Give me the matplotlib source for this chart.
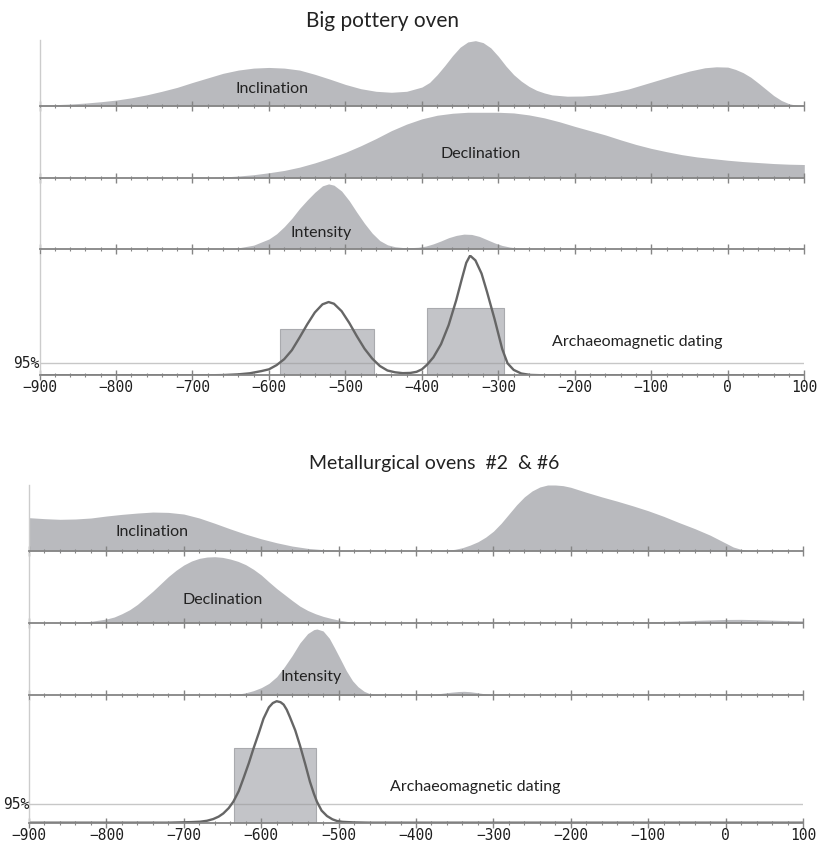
import matplotlib
matplotlib.use('Agg')
import matplotlib.pyplot as plt
from matplotlib.ticker import MultipleLocator
from matplotlib.patches import Rectangle

# ---------------- data (relative probability density, %) ----------------
# Big pottery oven
TOP_YEARS_INCL = [-900, -880, -860, -840, -820, -800, -780, -760, -740, -720, -700, -680, -660,
                  -640, -620, -600, -580, -560, -540, -520, -500, -480, -460, -440, -420, -400,
                  -390, -380, -370, -360, -350, -340, -330, -320, -310, -300, -290, -280, -270,
                  -260, -250, -240, -230, -210, -190, -170, -150, -130, -110, -90, -70, -50, -30,
                  -15, 0, 10, 20, 30, 40, 50, 60, 70, 80, 90, 100]
TOP_INCL = [1, 2, 3, 4.5, 6.5, 9, 12.5, 17, 22.5, 28.5, 36, 43, 50,
            55, 58, 59, 58, 55, 48.5, 41, 33, 26.5, 22.5, 21, 22.5, 29,
            36, 48, 62, 77, 90, 98, 100, 97, 89, 76, 61, 48, 38,
            30, 24, 20, 17, 15, 15.3, 17, 21, 26, 33, 40, 47, 53.5, 58.5,
            60, 59.5, 56, 51, 44, 35, 25.5, 16, 8.5, 3.5, 1, 0]

TOP_YEARS_DECL = [-900, -700, -680, -660, -640, -620, -600, -580, -560, -540, -520, -500, -480,
                  -460, -440, -420, -400, -380, -360, -340, -320, -300, -280, -260, -240, -220,
                  -200, -180, -160, -140, -120, -100, -80, -60, -40, -20, 0, 20, 40, 60, 80, 100]
TOP_DECL = [0, 0, 0.5, 1.5, 3, 5, 8, 11.5, 16.5, 23, 30.5, 39, 49,
            60, 72, 82, 90, 95.5, 98.5, 100, 100, 100, 99, 96, 91.5, 85.5,
            78.5, 72, 65.5, 58, 51, 45, 40, 35.5, 32, 29.5, 27, 25, 23.5, 22, 21, 20.5]

TOP_YEARS_INT = [-900, -670, -650, -640, -620, -600, -590, -580, -570, -560, -550, -540, -530,
                 -522, -515, -505, -495, -485, -475, -465, -455, -445, -435, -425, -415, -405,
                 -395, -385, -375, -365, -355, -345, -335, -325, -315, -305, -295, -285, -275,
                 -260, -250, 100]
TOP_INT = [0, 0, 0.5, 1.3, 5.5, 15, 23, 34, 47, 62, 75, 87, 97,
           100, 98, 89, 74, 56, 39, 24, 12.5, 6, 3, 1.8, 1.6, 2.2,
           4, 7.5, 12, 17, 20.5, 22.5, 22, 19, 14, 9, 5, 2.5, 1,
           0.2, 0, 0]

TOP_YEARS_AM = [-900, -680, -660, -640, -625, -610, -600, -590, -580, -570, -560, -550, -540,
                -530, -522, -515, -505, -495, -485, -475, -465, -455, -445, -435, -425, -415,
                -407, -400, -393, -385, -375, -365, -355, -348, -342, -337, -330, -322, -315,
                -305, -295, -288, -280, -270, -258, -240, 100]
TOP_AM = [0, 0, 0.2, 0.8, 1.7, 3.5, 5, 8.5, 13.5, 21, 31.5, 42.5, 52.5,
          59.3, 61.2, 59.8, 53.6, 43.8, 32.6, 22.2, 14, 7.8, 4, 2.5, 1.8, 2,
          2.9, 5, 9, 15, 26, 42, 63, 80, 94, 100, 96, 85, 70,
          47, 22, 10, 4.5, 1.5, 0.3, 0, 0]
TOP_HPD_START = [-585, -393]
TOP_HPD_END = [-463, -293]
TOP_HPD_HEIGHT = [38.5, 56.5]
TOP_LEVEL95 = 10

# Metallurgical ovens #2 & #6
BOT_YEARS_INCL = [-900, -880, -860, -840, -820, -800, -780, -760, -740, -720, -700, -680, -660,
                  -640, -620, -600, -580, -560, -540, -520, -500, -480, -460, -390, -370, -360,
                  -350, -340, -330, -320, -310, -300, -290, -280, -270, -260, -250, -240, -230,
                  -220, -210, -200, -180, -160, -140, -120, -100, -80, -60, -40, -20, 0, 10, 20,
                  30, 40, 50, 100]
BOT_INCL = [50.5, 49, 48, 48.5, 50, 53, 55.5, 57.5, 59, 58.5, 56, 50, 42,
            33.5, 25.5, 18.5, 12.5, 7.5, 4, 2, 0.8, 0.3, 0, 0, 0.5, 1.2,
            2.5, 5, 9, 14, 21, 30, 42, 56, 70, 82, 91, 97, 100,
            100, 99, 96.5, 89, 82, 75.5, 68.5, 61, 52.5, 43, 34, 24, 12, 6, 2.5,
            1, 0.3, 0, 0]

BOT_YEARS_DECL = [-900, -880, -860, -840, -820, -800, -790, -780, -770, -760, -750, -740, -730,
                  -720, -710, -700, -690, -680, -670, -660, -650, -640, -630, -620, -610, -600,
                  -590, -580, -570, -560, -550, -540, -530, -520, -510, -500, -490, -480, -470,
                  -460, -170, -150, -120, -90, -60, -30, 0, 20, 40, 60, 80, 100]
BOT_DECL = [0, 0, 0.3, 1, 2.5, 6, 9, 14, 20, 28, 38, 48, 59,
            70, 79.5, 87.5, 93.5, 97.5, 99.5, 100, 99, 96.5, 93, 88, 81, 72.5,
            62, 52, 43, 34, 25.5, 19, 14, 10, 7, 4.5, 2.5, 1, 0.3,
            0, 0, 0.5, 1.2, 2, 3, 4.3, 5.3, 5.5, 5, 4.3, 3.6, 3.2]

BOT_YEARS_INT = [-900, -670, -655, -640, -630, -620, -610, -600, -590, -580, -570, -560, -550,
                 -540, -532, -528, -520, -512, -505, -497, -490, -482, -475, -467, -460, -450,
                 -440, -430, -400, -385, -375, -365, -355, -345, -338, -330, -320, -310, -300,
                 -290, 100]
BOT_INT = [0, 0, 0.3, 0.6, 1.8, 3.8, 7, 11.5, 18, 28, 43, 60, 79,
           93, 99, 100, 97, 86, 71, 53, 37, 22, 13, 6, 2.5, 0.8,
           0.2, 0, 0, 0.8, 1.8, 3.2, 4.6, 5.7, 6, 5.4, 3.8, 2, 0.6,
           0, 0]

BOT_YEARS_AM = [-900, -720, -705, -690, -679, -670, -662, -655, -649, -642, -636, -629, -623,
                -616, -610, -603, -597, -590, -585, -580, -575, -571, -567, -563, -556, -550,
                -543, -537, -532, -528, -522, -515, -508, -502, -495, -481, -460, 100]
BOT_AM = [0, 0, 0.25, 0.5, 0.8, 1.6, 3, 5, 7.6, 12, 17.3, 26, 36.4,
          49, 61, 74, 85.7, 95, 98.5, 100, 99.2, 97.2, 93, 87.1, 76, 63.8,
          48, 33.7, 24, 17.3, 10, 5.5, 2.8, 1.4, 0.7, 0.25, 0, 0]
BOT_HPD_START = [-635]
BOT_HPD_END = [-529]
BOT_HPD_HEIGHT = [61.6]
BOT_LEVEL95 = 15.1

TITLES = ["Big pottery oven", "Metallurgical ovens  #2  & #6"]
LABELS = ["Inclination", "Declination", "Intensity", "Archaeomagnetic dating"]

# ---------------- styling / layout ----------------
W, H = 834, 843
fig = plt.figure(figsize=(W / 100, H / 100), dpi=100)

FILL = '#b9babe'
AXC = '#858585'
LABEL_FONT = 'Lato'
MONO = 'DejaVu Sans Mono'


def add_ax(x0, x1, y0, y1):
    return fig.add_axes([x0 / W, 1 - y1 / H, (x1 - x0) / W, (y1 - y0) / H])


def style(ax, ymax, labels):
    ax.set_xlim(-900, 100)
    ax.set_ylim(0, ymax)
    for s in ('top', 'right'):
        ax.spines[s].set_visible(False)
    ax.spines['bottom'].set_color(AXC)
    ax.spines['bottom'].set_linewidth(1.3)
    ax.spines['left'].set_color('#cccccc')
    ax.spines['left'].set_linewidth(1.0)
    ax.set_yticks([])
    ax.xaxis.set_major_locator(MultipleLocator(100))
    ax.xaxis.set_minor_locator(MultipleLocator(20))
    ax.tick_params(axis='x', which='major', direction='inout', length=7, width=1.0,
                   color=AXC, labelbottom=labels, labelsize=10.5, pad=0, labelcolor='#1e1e1e')
    ax.tick_params(axis='x', which='minor', direction='inout', length=3, width=0.8, color=AXC)
    if labels:
        for t in ax.get_xticklabels():
            t.set_fontfamily(MONO)
    ax.patch.set_alpha(0)


def figtext(x, y, s, size, **kw):
    fig.text(x / W, 1 - y / H, s, ha='center', va='center', fontsize=size, **kw)


def chart(xr, rows, ymaxes, series, am, hpd, level, title_xy, title, tsize, label_pos):
    x0, x1 = xr
    axes = []
    for i, ((ya, yb), ymax) in enumerate(zip(rows, ymaxes)):
        ax = add_ax(x0, x1, ya, yb)
        style(ax, ymax, labels=(i == 3))
        axes.append(ax)
    for ax, (xs, ys) in zip(axes[:3], series):
        ax.fill_between(xs, 0, ys, color=FILL, lw=0)
    ax = axes[3]
    starts, ends, heights = hpd
    for s, e, h in zip(starts, ends, heights):
        ax.add_patch(Rectangle((s, 0), e - s, h, facecolor='#c3c4c8', edgecolor='#a9aaae', lw=0.8))
    ax.axhline(level, color='#9a9a9a', alpha=0.55, lw=1.0)
    ax.plot(am[0], am[1], color='#666666', lw=1.7, solid_joinstyle='round')
    ax.text(-900, level, '95%', transform=ax.transData, ha='right', va='center',
            fontsize=10.5, family=MONO, color='#1e1e1e')
    figtext(title_xy[0], title_xy[1], title, tsize, family=LABEL_FONT, color='#222222')
    for (px, py), lab in zip(label_pos, LABELS):
        figtext(px, py, lab, 11.5, family=LABEL_FONT, color='#222222')


chart((39.5, 804.3),
      [(40, 106), (108, 178), (180, 248.7), (255, 375.3)],
      [101, 106.5, 106, 100.5],
      [(TOP_YEARS_INCL, TOP_INCL), (TOP_YEARS_DECL, TOP_DECL), (TOP_YEARS_INT, TOP_INT)],
      (TOP_YEARS_AM, TOP_AM),
      (TOP_HPD_START, TOP_HPD_END, TOP_HPD_HEIGHT), TOP_LEVEL95,
      (382, 21), TITLES[0], 15,
      [(272, 89), (481, 154), (321, 233), (637, 342)])

chart((29, 803),
      [(485, 551), (553, 623), (625, 695.3), (700, 822.7)],
      [100, 105.6, 106, 101],
      [(BOT_YEARS_INCL, BOT_INCL), (BOT_YEARS_DECL, BOT_DECL), (BOT_YEARS_INT, BOT_INT)],
      (BOT_YEARS_AM, BOT_AM),
      (BOT_HPD_START, BOT_HPD_END, BOT_HPD_HEIGHT), BOT_LEVEL95,
      (434, 463), TITLES[1], 14,
      [(152, 532), (223, 600), (311, 677), (475, 787)])

fig.savefig('out.png', dpi=100)
